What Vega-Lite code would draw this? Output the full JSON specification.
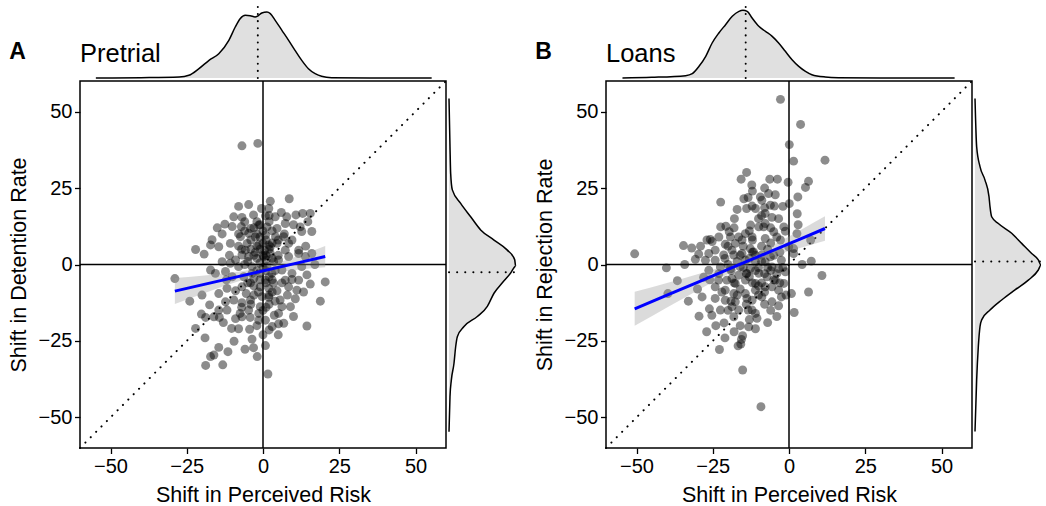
{
  "$schema": "https://vega.github.io/schema/vega-lite/v6.json",
  "padding": {"left": 7, "top": 5, "right": 0, "bottom": 0},
  "spacing": 14,
  "config": {
    "font": "Liberation Sans",
    "view": {"stroke": null},
    "concat": {"spacing": 3},
    "axis": {"grid": false, "domain": false, "ticks": true, "tickColor": "black", "tickSize": 5.5, "tickWidth": 1.3, "labelColor": "black", "labelFontSize": 20, "labelFont": "Liberation Sans", "labelPadding": 2.5, "titleFont": "Liberation Sans", "titleFontSize": 21.5, "titleFontWeight": "normal", "titleColor": "black", "titlePadding": 8},
    "title": {"color": "black", "font": "Liberation Sans"}
  },
  "datasets": {
    "ptsA": [{"x":-6.9,"y":38.8},{"x":-1.7,"y":39.6},{"x":-4.7,"y":19.6},{"x":2.4,"y":20.7},{"x":8.6,"y":21.5},{"x":-28.9,"y":-4.6},{"x":-22.1,"y":4.9},{"x":-19.3,"y":3.4},{"x":20.4,"y":-5.7},{"x":18.8,"y":-12.0},{"x":14.4,"y":-20.1},{"x":1.6,"y":-35.8},{"x":-18.8,"y":-33.0},{"x":-13.2,"y":-32.8},{"x":-17.2,"y":-30.1},{"x":-16.1,"y":-29.6},{"x":-14.5,"y":-27.1},{"x":-11.5,"y":-28.5},{"x":-5.9,"y":-27.7},{"x":-1.9,"y":-30.1},{"x":0.8,"y":-26.5},{"x":-3.1,"y":-27.2},{"x":-3.6,"y":-24.4},{"x":-9.5,"y":-25.1},{"x":-10.3,"y":-20.9},{"x":-4.4,"y":-21.2},{"x":2.0,"y":-21.4},{"x":-22.1,"y":-20.9},{"x":-20.2,"y":-16.2},{"x":-18.8,"y":-17.3},{"x":-17.5,"y":-13.2},{"x":-14.3,"y":-17.3},{"x":-9.0,"y":-17.7},{"x":-7.5,"y":-16.0},{"x":-4.2,"y":-17.3},{"x":-1.4,"y":-18.2},{"x":5.1,"y":-19.4},{"x":6.8,"y":-19.2},{"x":3.7,"y":-16.6},{"x":6.2,"y":-13.8},{"x":9.0,"y":-13.8},{"x":10.6,"y":-11.2},{"x":13.3,"y":-9.0},{"x":11.7,"y":-5.1},{"x":15.5,"y":-6.4},{"x":8.4,"y":-7.3},{"x":5.6,"y":-11.6},{"x":1.9,"y":-10.7},{"x":-0.9,"y":-13.8},{"x":-4.1,"y":-11.6},{"x":-6.9,"y":-12.5},{"x":-9.6,"y":-11.6},{"x":-12.3,"y":-12.2},{"x":-14.5,"y":-9.5},{"x":-11.8,"y":-7.8},{"x":-9.0,"y":-8.6},{"x":-6.9,"y":-7.3},{"x":-4.1,"y":-6.0},{"x":0.8,"y":-5.1},{"x":3.5,"y":-6.1},{"x":4.6,"y":-8.6},{"x":6.2,"y":-6.0},{"x":9.5,"y":-4.9},{"x":-17.2,"y":-1.8},{"x":-15.6,"y":-2.9},{"x":-12.3,"y":-2.3},{"x":-10.1,"y":-4.0},{"x":-6.3,"y":-4.0},{"x":-3.6,"y":-2.9},{"x":-0.9,"y":-2.9},{"x":2.9,"y":-2.9},{"x":6.2,"y":-1.8},{"x":9.5,"y":-2.9},{"x":12.7,"y":-0.7},{"x":14.4,"y":-3.4},{"x":16.0,"y":3.6},{"x":13.9,"y":2.6},{"x":11.7,"y":3.6},{"x":8.4,"y":2.6},{"x":5.1,"y":1.5},{"x":2.4,"y":3.6},{"x":0.2,"y":2.6},{"x":-2.0,"y":2.0},{"x":-4.7,"y":2.6},{"x":-6.9,"y":3.1},{"x":-9.0,"y":1.5},{"x":-10.7,"y":0.4},{"x":-13.4,"y":0.9},{"x":-17.2,"y":6.4},{"x":-14.5,"y":5.8},{"x":-10.7,"y":6.9},{"x":-8.0,"y":6.0},{"x":-5.2,"y":6.9},{"x":-1.4,"y":6.4},{"x":1.9,"y":6.4},{"x":4.6,"y":6.9},{"x":8.4,"y":6.9},{"x":11.7,"y":4.7},{"x":-16.7,"y":8.1},{"x":-13.4,"y":10.0},{"x":-7.4,"y":9.1},{"x":-4.7,"y":10.2},{"x":0.8,"y":9.6},{"x":4.1,"y":9.1},{"x":6.8,"y":9.1},{"x":9.5,"y":8.0},{"x":12.7,"y":10.8},{"x":16.0,"y":10.8},{"x":-12.5,"y":13.2},{"x":-10.1,"y":12.4},{"x":-7.1,"y":12.4},{"x":-4.1,"y":11.8},{"x":-1.4,"y":12.9},{"x":1.3,"y":12.3},{"x":4.6,"y":11.8},{"x":7.3,"y":13.4},{"x":-9.6,"y":15.6},{"x":-6.9,"y":15.4},{"x":-3.1,"y":16.2},{"x":0.8,"y":15.9},{"x":4.0,"y":15.6},{"x":7.8,"y":15.6},{"x":10.8,"y":16.2},{"x":13.0,"y":16.7},{"x":15.5,"y":16.7},{"x":14.7,"y":14.0},{"x":12.2,"y":12.3},{"x":-0.5,"y":18.3},{"x":1.9,"y":18.3},{"x":-5.8,"y":4.7},{"x":-3.6,"y":-0.7},{"x":1.3,"y":-0.7},{"x":3.5,"y":0.9},{"x":2.4,"y":5.8},{"x":7.3,"y":4.7},{"x":-8.0,"y":-0.7},{"x":-0.9,"y":-7.3},{"x":1.9,"y":-7.8},{"x":-0.3,"y":-10.5},{"x":5.1,"y":-16.0},{"x":-4.7,"y":-14.9},{"x":-6.9,"y":-17.1},{"x":-11.8,"y":-14.9},{"x":-14.5,"y":-14.9},{"x":-16.1,"y":-17.1},{"x":-1.4,"y":-16.0},{"x":0.8,"y":-18.2},{"x":3.0,"y":-20.3},{"x":7.3,"y":-5.1},{"x":11.1,"y":-8.4},{"x":-2.5,"y":4.0},{"x":0.5,"y":4.5},{"x":-1.0,"y":0.5},{"x":1.0,"y":1.5},{"x":-3.0,"y":-4.5},{"x":-1.5,"y":-9.0},{"x":2.0,"y":-13.0},{"x":-2.5,"y":9.0},{"x":3.0,"y":11.0},{"x":-5.5,"y":-9.5},{"x":-3,"y":3},{"x":-1,"y":5},{"x":1,"y":3},{"x":3,"y":7},{"x":-4,"y":8},{"x":0,"y":11},{"x":-2,"y":14},{"x":2,"y":14},{"x":5,"y":3},{"x":-6,"y":0},{"x":-2,"y":-2},{"x":2,"y":-4},{"x":4,"y":-2},{"x":-5,"y":-6},{"x":-3,"y":-10},{"x":1,"y":-14},{"x":-2,"y":-20},{"x":-8,"y":-21},{"x":5,"y":-23},{"x":-12,"y":-5},{"x":-8,"y":10},{"x":-11,"y":3},{"x":7,"y":10},{"x":10,"y":13},{"x":-7,"y":-14},{"x":0,"y":-23},{"x":3,"y":-9},{"x":8,"y":-10},{"x":-13,"y":-19},{"x":6,"y":17},{"x":-15,"y":12},{"x":14,"y":6},{"x":17,"y":0},{"x":-20,"y":-10},{"x":-24,"y":-12},{"x":-19,"y":-24},{"x":-8,"y":19},{"x":10,"y":-17},{"x":-6,"y":14},{"x":0,"y":7},{"x":-4,"y":5},{"x":-2,"y":6},{"x":0,"y":3},{"x":2,"y":5},{"x":-1,"y":9},{"x":1,"y":8},{"x":-3,"y":12},{"x":3,"y":2},{"x":-5,"y":1},{"x":0,"y":-1},{"x":-1,"y":-5},{"x":1,"y":-6},{"x":-3,"y":-7},{"x":2,"y":-10},{"x":-4,"y":-13},{"x":0,"y":-15},{"x":4,"y":-12},{"x":-6,"y":11},{"x":5,"y":8},{"x":-7,"y":5},{"x":1,"y":-2},{"x":-2,"y":10},{"x":3,"y":-5},{"x":-1,"y":13},{"x":2,"y":16}],
    "ptsB": [{"x":-2.8,"y":54.0},{"x":3.8,"y":45.8},{"x":0.1,"y":39.2},{"x":1.5,"y":33.8},{"x":11.8,"y":34.1},{"x":-13.9,"y":30.1},{"x":-15.7,"y":27.9},{"x":-12.2,"y":26.0},{"x":-6.3,"y":27.9},{"x":-3.8,"y":27.9},{"x":-0.3,"y":26.9},{"x":6.4,"y":27.2},{"x":5.4,"y":25.2},{"x":-22.4,"y":20.4},{"x":-14.8,"y":21.5},{"x":-13.4,"y":21.9},{"x":-9.4,"y":22.1},{"x":-6.7,"y":23.2},{"x":-4.5,"y":22.8},{"x":2.9,"y":22.1},{"x":0.1,"y":19.9},{"x":-13.9,"y":18.3},{"x":-12.1,"y":19.1},{"x":-8.0,"y":18.6},{"x":-4.8,"y":19.1},{"x":-5.6,"y":15.4},{"x":2.7,"y":16.6},{"x":-17.9,"y":15.0},{"x":-22.4,"y":12.3},{"x":-20.7,"y":12.5},{"x":-12.6,"y":12.9},{"x":-8.3,"y":12.3},{"x":-1.7,"y":12.3},{"x":-1.2,"y":10.9},{"x":-19.6,"y":10.7},{"x":-25.8,"y":8.2},{"x":-25.2,"y":7.5},{"x":-20.9,"y":6.6},{"x":-17.6,"y":6.9},{"x":-15.4,"y":8.0},{"x":-12.1,"y":9.0},{"x":-7.8,"y":8.5},{"x":-5.0,"y":10.7},{"x":2.6,"y":10.1},{"x":7.1,"y":8.0},{"x":-34.6,"y":6.2},{"x":-31.9,"y":5.4},{"x":-29.6,"y":3.4},{"x":-30.7,"y":1.7},{"x":-34.2,"y":0.0},{"x":-50.6,"y":3.5},{"x":-40.2,"y":-1.1},{"x":-36.6,"y":-5.3},{"x":-39.7,"y":-9.5},{"x":-26.3,"y":3.6},{"x":-24.2,"y":1.4},{"x":-21.4,"y":3.1},{"x":-18.1,"y":3.1},{"x":-15.4,"y":3.6},{"x":-11.6,"y":4.1},{"x":-8.9,"y":3.1},{"x":-6.1,"y":2.5},{"x":-2.5,"y":1.4},{"x":1.5,"y":3.6},{"x":4.3,"y":0.0},{"x":7.3,"y":1.1},{"x":10.8,"y":-3.6},{"x":6.4,"y":-9.0},{"x":0.8,"y":-9.5},{"x":1.7,"y":-15.7},{"x":-3.4,"y":-13.5},{"x":-5.6,"y":-12.2},{"x":-2.5,"y":-10.6},{"x":-4.5,"y":-5.1},{"x":-7.2,"y":-4.0},{"x":-9.9,"y":-2.9},{"x":-12.7,"y":-1.3},{"x":-16.0,"y":-0.8},{"x":-19.2,"y":-1.3},{"x":-22.5,"y":-0.8},{"x":-26.3,"y":-1.9},{"x":-28.0,"y":-4.2},{"x":-28.5,"y":-10.6},{"x":-24.2,"y":-7.3},{"x":-20.9,"y":-8.4},{"x":-17.6,"y":-6.2},{"x":-14.3,"y":-5.1},{"x":-11.0,"y":-6.2},{"x":-7.8,"y":-7.3},{"x":-24.2,"y":-11.1},{"x":-20.9,"y":-11.7},{"x":-17.6,"y":-12.2},{"x":-14.3,"y":-9.5},{"x":-12.1,"y":-11.7},{"x":-8.9,"y":-10.6},{"x":-26.1,"y":-14.5},{"x":-29.5,"y":-16.9},{"x":-25.3,"y":-16.6},{"x":-22.5,"y":-14.9},{"x":-18.7,"y":-13.8},{"x":-16.5,"y":-14.9},{"x":-13.4,"y":-14.9},{"x":-10.5,"y":-17.6},{"x":-18.1,"y":-17.1},{"x":-21.3,"y":-19.1},{"x":-13.2,"y":-20.4},{"x":-15.2,"y":-23.3},{"x":-15.6,"y":-24.5},{"x":-16.7,"y":-26.6},{"x":-15.8,"y":-26.0},{"x":-22.8,"y":-27.8},{"x":-15.2,"y":-34.5},{"x":-9.2,"y":-46.5},{"x":-1.7,"y":-6.2},{"x":-1.2,"y":-2.4},{"x":-3.4,"y":-1.3},{"x":-5.6,"y":-0.8},{"x":-7.8,"y":0.9},{"x":-11.0,"y":0.9},{"x":-14.3,"y":1.4},{"x":-16.5,"y":-3.5},{"x":-13.8,"y":-2.9},{"x":-18.7,"y":-4.6},{"x":-20.4,"y":-5.1},{"x":-23.1,"y":-5.1},{"x":-5.6,"y":-7.3},{"x":-3.4,"y":-8.4},{"x":-11.0,"y":-8.4},{"x":-12.1,"y":-14.9},{"x":-13.8,"y":-11.1},{"x":-18.1,"y":-9.5},{"x":-26.9,"y":8.0},{"x":-19.2,"y":9.0},{"x":-16.5,"y":9.0},{"x":-14.3,"y":10.1},{"x":-9.9,"y":12.3},{"x":-7.8,"y":13.4},{"x":-3.4,"y":15.0},{"x":-7.8,"y":16.7},{"x":-11.0,"y":18.3},{"x":-8.9,"y":21.0},{"x":-6.1,"y":19.4},{"x":-2.8,"y":8.0},{"x":-0.1,"y":5.8},{"x":1.5,"y":5.2},{"x":-12.7,"y":5.2},{"x":-18.7,"y":4.7},{"x":-24.2,"y":4.7},{"x":-27.4,"y":1.4},{"x":-10.0,"y":-1.0},{"x":-8.0,"y":-3.0},{"x":-13.0,"y":2.0},{"x":-20.0,"y":0.0},{"x":-9.0,"y":6.0},{"x":-6.0,"y":-2.0},{"x":-14,"y":-3},{"x":-12,"y":-6},{"x":-16,"y":-8},{"x":-10,"y":-10},{"x":-8,"y":-13},{"x":-6,"y":-15},{"x":-19,"y":-2},{"x":-21,"y":2},{"x":-23,"y":-3},{"x":-17,"y":1},{"x":-11,"y":3},{"x":-9,"y":-6},{"x":-4,"y":-3},{"x":-2,"y":-1},{"x":-15,"y":6},{"x":-18,"y":12},{"x":-10,"y":15},{"x":-6,"y":7},{"x":-3,"y":4},{"x":-1,"y":-10},{"x":-13,"y":-18},{"x":-20,"y":-15},{"x":-24,"y":-20},{"x":-18,"y":-22},{"x":-11,"y":-21},{"x":-7,"y":-19},{"x":-30,"y":-8},{"x":-33,"y":-12},{"x":-27,"y":-22},{"x":-8,"y":25},{"x":-12,"y":24},{"x":-2,"y":19},{"x":3,"y":13},{"x":-4,"y":-17},{"x":-21,"y":-24},{"x":-26,"y":-5},{"x":-29,"y":6},{"x":-23,"y":9},{"x":-17,"y":18},{"x":-5,"y":3},{"x":-15,"y":-1},{"x":-13,"y":-4},{"x":-11,"y":-2},{"x":-9,"y":1},{"x":-7,"y":-1},{"x":-12,"y":4},{"x":-16,"y":3},{"x":-18,"y":-6},{"x":-10,"y":-7},{"x":-8,"y":-9},{"x":-14,"y":-13},{"x":-17,"y":-10},{"x":-19,"y":-12},{"x":-12,"y":8},{"x":-6,"y":12},{"x":-9,"y":16},{"x":-5,"y":-5},{"x":-3,"y":-6},{"x":-22,"y":-9},{"x":-20,"y":6},{"x":-11,"y":-16},{"x":-7,"y":5},{"x":-4,"y":9},{"x":-13,"y":11},{"x":-16,"y":-20}],
    "bandA": [{"x":-28.9,"y":-8.70,"lo":-12.95,"hi":-4.45},{"x":-20,"y":-6.66,"lo":-9.66,"hi":-3.66},{"x":-10,"y":-4.37,"lo":-6.10,"hi":-2.64},{"x":-1.6,"y":-2.45,"lo":-3.65,"hi":-1.25},{"x":10,"y":0.21,"lo":-1.90,"hi":2.32},{"x":20.4,"y":2.59,"lo":-0.91,"hi":6.09}],
    "bandB": [{"x":-50.6,"y":-14.5,"lo":-20.05,"hi":-8.95},{"x":-40,"y":-10.04,"lo":-14.07,"hi":-6.01},{"x":-30,"y":-5.83,"lo":-8.48,"hi":-3.18},{"x":-20,"y":-1.62,"lo":-3.11,"hi":-0.13},{"x":-14,"y":0.91,"lo":-0.29,"hi":2.11},{"x":-5,"y":4.7,"lo":2.91,"hi":6.49},{"x":5,"y":8.9,"lo":5.84,"hi":11.96},{"x":11.8,"y":11.77,"lo":7.77,"hi":15.77}],
    "topA": [{"v":-54.8,"d":0},{"v":-40,"d":1},{"v":-27.5,"d":3},{"v":-24.3,"d":8},{"v":-21.0,"d":28},{"v":-17.7,"d":53},{"v":-14.5,"d":73},{"v":-11.2,"d":113},{"v":-9.1,"d":153},{"v":-7.5,"d":178},{"v":-5.8,"d":188},{"v":-4.2,"d":187},{"v":-2.6,"d":183},{"v":-1.7,"d":186},{"v":-0.4,"d":195},{"v":1.3,"d":198},{"v":2.4,"d":193},{"v":4.0,"d":173},{"v":6.2,"d":143},{"v":8.4,"d":113},{"v":10.5,"d":83},{"v":12.7,"d":53},{"v":14.9,"d":28},{"v":17.1,"d":13},{"v":19.2,"d":5},{"v":22.5,"d":1},{"v":35,"d":0},{"v":55.3,"d":0}],
    "topB": [{"v":-54.6,"d":0},{"v":-45,"d":2},{"v":-33.9,"d":7},{"v":-31.7,"d":13},{"v":-29.5,"d":35},{"v":-27.3,"d":65},{"v":-25.2,"d":105},{"v":-23.0,"d":135},{"v":-20.8,"d":160},{"v":-18.6,"d":185},{"v":-16.4,"d":200},{"v":-15.1,"d":203},{"v":-13.7,"d":200},{"v":-12.1,"d":180},{"v":-9.9,"d":155},{"v":-7.7,"d":140},{"v":-5.5,"d":125},{"v":-3.4,"d":105},{"v":-1.2,"d":80},{"v":1.0,"d":55},{"v":3.2,"d":35},{"v":5.4,"d":20},{"v":7.5,"d":10},{"v":11.9,"d":3},{"v":16.2,"d":1},{"v":30,"d":0},{"v":54.3,"d":0}],
    "rightA": [{"v":54.3,"d":0},{"v":38.5,"d":3},{"v":29.8,"d":5},{"v":24.4,"d":10},{"v":20.0,"d":35},{"v":15.6,"d":65},{"v":11.3,"d":95},{"v":8.0,"d":135},{"v":4.7,"d":175},{"v":1.6,"d":197},{"v":-0.6,"d":200},{"v":-2.8,"d":185},{"v":-6.0,"d":160},{"v":-9.4,"d":135},{"v":-13.7,"d":115},{"v":-17.0,"d":85},{"v":-20.3,"d":45},{"v":-23.6,"d":25},{"v":-26.9,"d":20},{"v":-32.3,"d":15},{"v":-37.8,"d":7},{"v":-43.2,"d":3},{"v":-54.7,"d":0}],
    "rightB": [{"v":54.3,"d":0},{"v":38.5,"d":5},{"v":32.0,"d":15},{"v":27.6,"d":30},{"v":22.2,"d":42},{"v":18.9,"d":45},{"v":15.6,"d":50},{"v":13.4,"d":70},{"v":10.2,"d":110},{"v":6.9,"d":140},{"v":3.6,"d":170},{"v":1.5,"d":190},{"v":-0.2,"d":198},{"v":-1.8,"d":190},{"v":-5.1,"d":160},{"v":-8.3,"d":120},{"v":-11.6,"d":80},{"v":-14.9,"d":45},{"v":-18.1,"d":20},{"v":-20.3,"d":15},{"v":-26.8,"d":10},{"v":-37.7,"d":5},{"v":-54.6,"d":0}],
    "diag": [{"x":-60,"y":-60},{"x":60,"y":60}]
  },
  "hconcat": [
    {
      "title": {"text": "A", "anchor": "start", "frame": "bounds", "fontSize": 23, "fontWeight": "bold", "offset": -77, "baseline": "alphabetic", "dx": 2},
      "spacing": 3,
      "bounds": "flush",
      "vconcat": [
        {
          "width": 366, "height": 73,
          "title": {"text": "Pretrial", "anchor": "start", "frame": "group", "fontSize": 25.5, "fontWeight": "normal", "offset": -82, "baseline": "alphabetic"},
          "layer": [
            {"data": {"name": "topA"}, "mark": {"type": "area", "interpolate": "monotone", "color": "#e0e0e0"},
             "encoding": {"x": {"field": "v", "type": "quantitative", "scale": {"domain": [-60, 60], "nice": false, "zero": false}, "axis": null}, "y": {"field": "d", "type": "quantitative", "scale": {"domain": [0, 219], "nice": false}, "axis": null}}},
            {"data": {"name": "topA"}, "mark": {"type": "line", "interpolate": "monotone", "color": "black", "strokeWidth": 1.5},
             "encoding": {"x": {"field": "v", "type": "quantitative"}, "y": {"field": "d", "type": "quantitative"}}},
            {"data": {"values": [{"v": -1.7, "d0": 0, "d1": 216}]}, "mark": {"type": "rule", "color": "black", "strokeWidth": 2, "strokeDash": [0.1, 7], "strokeCap": "round"},
             "encoding": {"x": {"field": "v", "type": "quantitative"}, "y": {"field": "d0", "type": "quantitative"}, "y2": {"field": "d1"}}}
          ]
        },
        {
          "spacing": 3,
          "bounds": "flush",
          "hconcat": [
            {
              "width": 366, "height": 367,
              "view": {"stroke": "black", "strokeWidth": 1.5},
              "layer": [
                {"data": {"values": [{"x": 0}]}, "mark": {"type": "rule", "color": "black", "strokeWidth": 1.5},
                 "encoding": {"x": {"field": "x", "type": "quantitative", "title": "Shift in Perceived Risk", "scale": {"domain": [-60, 60], "nice": false, "zero": false}, "axis": {"values": [-50, -25, 0, 25, 50]}}}},
                {"data": {"values": [{"y": 0}]}, "mark": {"type": "rule", "color": "black", "strokeWidth": 1.5},
                 "encoding": {"y": {"field": "y", "type": "quantitative", "title": "Shift in Detention Rate", "scale": {"domain": [-60, 60], "nice": false, "zero": false}, "axis": {"values": [-50, -25, 0, 25, 50]}}}},
                {"data": {"name": "diag"}, "mark": {"type": "line", "color": "black", "strokeWidth": 2, "strokeDash": [0.1, 7.5], "strokeCap": "round"},
                 "encoding": {"x": {"field": "x", "type": "quantitative", "title": "Shift in Perceived Risk"}, "y": {"field": "y", "type": "quantitative", "title": "Shift in Detention Rate"}}},
                {"data": {"name": "ptsA"}, "mark": {"type": "circle", "size": 80, "color": "black", "opacity": 0.45, "strokeWidth": 0},
                 "encoding": {"x": {"field": "x", "type": "quantitative", "title": "Shift in Perceived Risk"}, "y": {"field": "y", "type": "quantitative", "title": "Shift in Detention Rate"}}},
                {"data": {"name": "bandA"}, "mark": {"type": "area", "color": "#999999", "opacity": 0.35, "interpolate": "monotone"},
                 "encoding": {"x": {"field": "x", "type": "quantitative", "title": "Shift in Perceived Risk"}, "y": {"field": "lo", "type": "quantitative", "title": "Shift in Detention Rate"}, "y2": {"field": "hi"}}},
                {"data": {"name": "bandA"}, "mark": {"type": "line", "color": "#0000ff", "strokeWidth": 3},
                 "encoding": {"x": {"field": "x", "type": "quantitative", "title": "Shift in Perceived Risk"}, "y": {"field": "y", "type": "quantitative", "title": "Shift in Detention Rate"}}}
              ]
            },
            {
              "width": 68, "height": 367,
              "layer": [
                {"data": {"name": "rightA"}, "mark": {"type": "area", "orient": "horizontal", "interpolate": "monotone", "color": "#e0e0e0"},
                 "encoding": {"y": {"field": "v", "type": "quantitative", "scale": {"domain": [-60, 60], "nice": false, "zero": false}, "axis": null}, "x": {"field": "d", "type": "quantitative", "scale": {"domain": [0, 204], "nice": false}, "axis": null}}},
                {"data": {"name": "rightA"}, "mark": {"type": "line", "interpolate": "monotone", "color": "black", "strokeWidth": 1.5},
                 "encoding": {"y": {"field": "v", "type": "quantitative"}, "x": {"field": "d", "type": "quantitative"}, "order": {"field": "v", "type": "quantitative"}}},
                {"data": {"values": [{"v": -2.5, "d0": 0, "d1": 204}]}, "mark": {"type": "rule", "color": "black", "strokeWidth": 2, "strokeDash": [0.1, 8], "strokeCap": "round"},
                 "encoding": {"y": {"field": "v", "type": "quantitative"}, "x": {"field": "d0", "type": "quantitative"}, "x2": {"field": "d1"}}}
              ]
            }
          ]
        }
      ]
    },
    {
      "title": {"text": "B", "anchor": "start", "frame": "bounds", "fontSize": 23, "fontWeight": "bold", "offset": -77, "baseline": "alphabetic", "dx": 2},
      "spacing": 3,
      "bounds": "flush",
      "vconcat": [
        {
          "width": 366, "height": 73,
          "title": {"text": "Loans", "anchor": "start", "frame": "group", "fontSize": 25.5, "fontWeight": "normal", "offset": -82, "baseline": "alphabetic"},
          "layer": [
            {"data": {"name": "topB"}, "mark": {"type": "area", "interpolate": "monotone", "color": "#e0e0e0"},
             "encoding": {"x": {"field": "v", "type": "quantitative", "scale": {"domain": [-60, 60], "nice": false, "zero": false}, "axis": null}, "y": {"field": "d", "type": "quantitative", "scale": {"domain": [0, 219], "nice": false}, "axis": null}}},
            {"data": {"name": "topB"}, "mark": {"type": "line", "interpolate": "monotone", "color": "black", "strokeWidth": 1.5},
             "encoding": {"x": {"field": "v", "type": "quantitative"}, "y": {"field": "d", "type": "quantitative"}}},
            {"data": {"values": [{"v": -14.2, "d0": 0, "d1": 216}]}, "mark": {"type": "rule", "color": "black", "strokeWidth": 2, "strokeDash": [0.1, 7], "strokeCap": "round"},
             "encoding": {"x": {"field": "v", "type": "quantitative"}, "y": {"field": "d0", "type": "quantitative"}, "y2": {"field": "d1"}}}
          ]
        },
        {
          "spacing": 3,
          "bounds": "flush",
          "hconcat": [
            {
              "width": 366, "height": 367,
              "view": {"stroke": "black", "strokeWidth": 1.5},
              "layer": [
                {"data": {"values": [{"x": 0}]}, "mark": {"type": "rule", "color": "black", "strokeWidth": 1.5},
                 "encoding": {"x": {"field": "x", "type": "quantitative", "title": "Shift in Perceived Risk", "scale": {"domain": [-60, 60], "nice": false, "zero": false}, "axis": {"values": [-50, -25, 0, 25, 50]}}}},
                {"data": {"values": [{"y": 0}]}, "mark": {"type": "rule", "color": "black", "strokeWidth": 1.5},
                 "encoding": {"y": {"field": "y", "type": "quantitative", "title": "Shift in Rejection Rate", "scale": {"domain": [-60, 60], "nice": false, "zero": false}, "axis": {"values": [-50, -25, 0, 25, 50]}}}},
                {"data": {"name": "diag"}, "mark": {"type": "line", "color": "black", "strokeWidth": 2, "strokeDash": [0.1, 7.5], "strokeCap": "round"},
                 "encoding": {"x": {"field": "x", "type": "quantitative", "title": "Shift in Perceived Risk"}, "y": {"field": "y", "type": "quantitative", "title": "Shift in Rejection Rate"}}},
                {"data": {"name": "ptsB"}, "mark": {"type": "circle", "size": 80, "color": "black", "opacity": 0.45, "strokeWidth": 0},
                 "encoding": {"x": {"field": "x", "type": "quantitative", "title": "Shift in Perceived Risk"}, "y": {"field": "y", "type": "quantitative", "title": "Shift in Rejection Rate"}}},
                {"data": {"name": "bandB"}, "mark": {"type": "area", "color": "#999999", "opacity": 0.35, "interpolate": "monotone"},
                 "encoding": {"x": {"field": "x", "type": "quantitative", "title": "Shift in Perceived Risk"}, "y": {"field": "lo", "type": "quantitative", "title": "Shift in Rejection Rate"}, "y2": {"field": "hi"}}},
                {"data": {"name": "bandB"}, "mark": {"type": "line", "color": "#0000ff", "strokeWidth": 3},
                 "encoding": {"x": {"field": "x", "type": "quantitative", "title": "Shift in Perceived Risk"}, "y": {"field": "y", "type": "quantitative", "title": "Shift in Rejection Rate"}}}
              ]
            },
            {
              "width": 68, "height": 367,
              "layer": [
                {"data": {"name": "rightB"}, "mark": {"type": "area", "orient": "horizontal", "interpolate": "monotone", "color": "#e0e0e0"},
                 "encoding": {"y": {"field": "v", "type": "quantitative", "scale": {"domain": [-60, 60], "nice": false, "zero": false}, "axis": null}, "x": {"field": "d", "type": "quantitative", "scale": {"domain": [0, 204], "nice": false}, "axis": null}}},
                {"data": {"name": "rightB"}, "mark": {"type": "line", "interpolate": "monotone", "color": "black", "strokeWidth": 1.5},
                 "encoding": {"y": {"field": "v", "type": "quantitative"}, "x": {"field": "d", "type": "quantitative"}, "order": {"field": "v", "type": "quantitative"}}},
                {"data": {"values": [{"v": 1.0, "d0": 0, "d1": 204}]}, "mark": {"type": "rule", "color": "black", "strokeWidth": 2, "strokeDash": [0.1, 8], "strokeCap": "round"},
                 "encoding": {"y": {"field": "v", "type": "quantitative"}, "x": {"field": "d0", "type": "quantitative"}, "x2": {"field": "d1"}}}
              ]
            }
          ]
        }
      ]
    }
  ]
}
